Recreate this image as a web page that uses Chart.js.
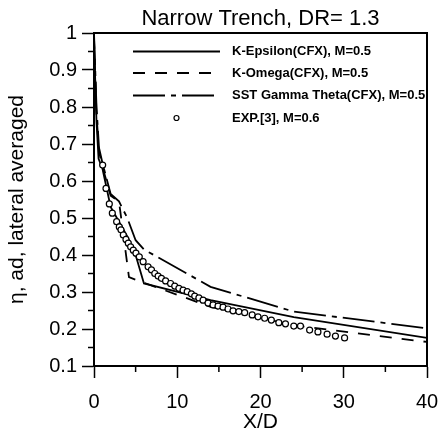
<!DOCTYPE html>
<html>
<head>
<meta charset="utf-8">
<script src="https://cdn.jsdelivr.net/npm/chart.js@4.4.1/dist/chart.umd.min.js"></script>
<style>
  html, body { margin: 0; padding: 0; background: #fff; }
</style>
</head>
<body>
<canvas id="myChart" width="440" height="435"></canvas>
<script>
// K-Epsilon (CFX), M=0.5
const kEpsX = [0, 0.3, 0.55, 1.0, 2.0, 4.0, 5.0, 6.0, 14.0, 24.0, 40.0];
const kEpsY = [0.98, 0.76, 0.66, 0.635, 0.53, 0.45, 0.40, 0.323, 0.278, 0.232, 0.176];

// K-Omega (CFX), M=0.5
const kOmX = [0, 0.3, 0.6, 1.0, 2.0, 3.0, 3.5, 4.2, 6.0, 14.0, 24.0, 40.0];
const kOmY = [0.99, 0.78, 0.68, 0.64, 0.56, 0.545, 0.46, 0.34, 0.325, 0.26, 0.21, 0.165];

// SST Gamma Theta (CFX), M=0.5
const sstX = [0, 0.3, 0.6, 1.0, 2.0, 3.0, 4.0, 5.0, 6.0, 14.0, 24.0, 40.0];
const sstY = [1.0, 0.8, 0.69, 0.65, 0.565, 0.545, 0.5, 0.44, 0.415, 0.314, 0.247, 0.202];

// EXP.[3], M=0.6
const expX = [1.04, 1.44, 1.84, 2.2, 2.72, 3.04, 3.24, 3.52, 3.84, 4.12, 4.4, 4.72, 5.04, 5.44, 5.9,
  6.5, 6.9, 7.3, 7.7, 8.1, 8.6, 9.2, 9.7, 10.2, 10.7, 11.2, 11.7, 12.1, 12.6, 13.1, 13.7, 14.3,
  14.9, 15.5, 16.1, 16.7, 17.4, 18.1, 19.0, 19.7, 20.5, 21.3, 22.2, 23.0, 24.0, 24.8, 25.9, 26.9,
  28.0, 29.0, 30.1];
const expY = [0.643, 0.58, 0.538, 0.513, 0.49, 0.476, 0.468, 0.454, 0.442, 0.432, 0.422, 0.413,
  0.405, 0.395, 0.382, 0.368, 0.36, 0.35, 0.343, 0.337, 0.33, 0.323, 0.316, 0.31, 0.305, 0.301,
  0.295, 0.289, 0.284, 0.278, 0.27, 0.265, 0.262, 0.259, 0.254, 0.249, 0.247, 0.244, 0.238, 0.233,
  0.229, 0.224, 0.217, 0.214, 0.208, 0.208, 0.197, 0.192, 0.186, 0.181, 0.176];

const xTicks = [0, 10, 20, 30, 40];
const xTickLabels = ["0", "10", "20", "30", "40"];
const xMinorTicks = [5, 15, 25, 35];
const yTicks = [0.1, 0.2, 0.3, 0.4, 0.5, 0.6, 0.7, 0.8, 0.9, 1.0];
const yTickLabels = ["0.1", "0.2", "0.3", "0.4", "0.5", "0.6", "0.7", "0.8", "0.9", "1"];
const yMinorTicks = [0.15, 0.25, 0.35, 0.45, 0.55, 0.65, 0.75, 0.85, 0.95];

const chartTitle = "Narrow Trench, DR= 1.3";

const toPoints = (xs, ys) => xs.map((x, i) => ({ x: x, y: ys[i] }));

const FONT = "'Liberation Sans', Arial, Helvetica, sans-serif";
const LEGEND_FONT = "bold 13px 'Liberation Sans', Arial, sans-serif";

// minor ticks, top/right frame and the title over the plot area
const framePlugin = {
  id: "frame",
  afterDraw(chart) {
    const ctx = chart.ctx;
    const a = chart.chartArea;
    const xs = chart.scales.x;
    const ys = chart.scales.y;
    ctx.save();
    ctx.strokeStyle = "#000";
    ctx.lineWidth = 1.5;
    xMinorTicks.forEach(v => {
      const px = xs.getPixelForValue(v);
      ctx.beginPath();
      ctx.moveTo(px, a.bottom);
      ctx.lineTo(px, a.bottom + 6);
      ctx.stroke();
    });
    yMinorTicks.forEach(v => {
      const py = ys.getPixelForValue(v);
      ctx.beginPath();
      ctx.moveTo(a.left - 6, py);
      ctx.lineTo(a.left, py);
      ctx.stroke();
    });
    ctx.lineWidth = 2;
    ctx.beginPath();
    ctx.moveTo(a.left, a.top);
    ctx.lineTo(a.right, a.top);
    ctx.lineTo(a.right, a.bottom);
    ctx.stroke();

    ctx.fillStyle = "#000";
    ctx.font = "22px " + FONT;
    ctx.textAlign = "center";
    ctx.textBaseline = "alphabetic";
    ctx.fillText(chartTitle, (a.left + a.right) / 2, 25);
    ctx.restore();
  }
};

// legend drawn inside the plot, like the original
const legendPlugin = {
  id: "innerLegend",
  afterDraw(chart) {
    const ctx = chart.ctx;
    const rows = [51.5, 73, 95.5, 118];
    const x0 = 133, x1 = 220, tx = 232;
    ctx.save();
    chart.data.datasets.forEach((ds, i) => {
      const y = rows[i];
      if (ds.showLine) {
        ctx.strokeStyle = ds.borderColor;
        ctx.lineWidth = ds.borderWidth;
        ctx.setLineDash(ds.borderDash || []);
        ctx.beginPath();
        ctx.moveTo(x0, y);
        ctx.lineTo(x1, y);
        ctx.stroke();
        ctx.setLineDash([]);
      } else {
        ctx.strokeStyle = ds.pointBorderColor;
        ctx.fillStyle = ds.pointBackgroundColor;
        ctx.lineWidth = ds.pointBorderWidth;
        ctx.beginPath();
        ctx.arc((x0 + x1) / 2, y, 2.5, 0, Math.PI * 2);
        ctx.fill();
        ctx.stroke();
      }
      ctx.fillStyle = "#000";
      ctx.font = LEGEND_FONT;
      ctx.textAlign = "left";
      ctx.textBaseline = "middle";
      ctx.fillText(ds.label, tx, y);
    });
    ctx.restore();
  }
};

const ctx = document.getElementById("myChart").getContext("2d");
const chart = new Chart(ctx, {
  type: "scatter",
  data: {
    datasets: [
      {
        label: "K-Epsilon(CFX), M=0.5",
        data: toPoints(kEpsX, kEpsY),
        showLine: true,
        borderColor: "#000",
        borderWidth: 1.8,
        pointRadius: 0,
        order: 3
      },
      {
        label: "K-Omega(CFX), M=0.5",
        data: toPoints(kOmX, kOmY),
        showLine: true,
        borderColor: "#000",
        borderWidth: 1.8,
        borderDash: [12, 10],
        pointRadius: 0,
        order: 2
      },
      {
        label: "SST Gamma Theta(CFX), M=0.5",
        data: toPoints(sstX, sstY),
        showLine: true,
        borderColor: "#000",
        borderWidth: 1.8,
        borderDash: [32, 6, 5, 6],
        pointRadius: 0,
        order: 1
      },
      {
        label: "EXP.[3], M=0.6",
        data: toPoints(expX, expY),
        showLine: false,
        pointRadius: 3,
        pointBorderWidth: 1.2,
        pointBorderColor: "#000",
        pointBackgroundColor: "#fff",
        order: 0
      }
    ]
  },
  options: {
    responsive: false,
    animation: false,
    devicePixelRatio: 1,
    layout: { padding: { left: 0, right: 13, top: 33, bottom: 0 } },
    scales: {
      x: {
        type: "linear",
        min: 0,
        max: 40,
        afterBuildTicks: s => { s.ticks = xTicks.map(v => ({ value: v })); },
        afterFit: s => { s.height = 69; s.paddingLeft = 0; s.paddingRight = 0; },
        ticks: {
          color: "#000",
          padding: 12,
          maxRotation: 0,
          font: { family: FONT, size: 20 },
          callback: (v) => xTickLabels[xTicks.indexOf(v)]
        },
        grid: { drawOnChartArea: false, drawTicks: true, tickLength: 12, tickColor: "#000", tickWidth: 1.5 },
        border: { display: true, color: "#000", width: 2 },
        title: {
          display: true,
          text: "X/D",
          color: "#000",
          font: { family: FONT, size: 21 },
          padding: { top: 0, bottom: 0 }
        }
      },
      y: {
        type: "linear",
        min: 0.1,
        max: 1,
        afterBuildTicks: s => { s.ticks = yTicks.map(v => ({ value: v })); },
        afterFit: s => { s.width = 94; s.paddingTop = 0; s.paddingBottom = 0; },
        ticks: {
          color: "#000",
          padding: 5,
          font: { family: FONT, size: 20 },
          callback: (v) => yTickLabels[yTicks.findIndex(t => Math.abs(t - v) < 1e-9)]
        },
        grid: { drawOnChartArea: false, drawTicks: true, tickLength: 12, tickColor: "#000", tickWidth: 1.5 },
        border: { display: true, color: "#000", width: 2 },
        title: {
          display: true,
          text: "\u03B7, ad, lateral averaged",
          color: "#000",
          font: { family: FONT, size: 21 },
          padding: { top: 5, bottom: 0 }
        }
      }
    },
    plugins: {
      legend: { display: false },
      tooltip: { enabled: false },
      title: { display: false }
    }
  },
  plugins: [framePlugin, legendPlugin]
});
</script>
</body>
</html>
